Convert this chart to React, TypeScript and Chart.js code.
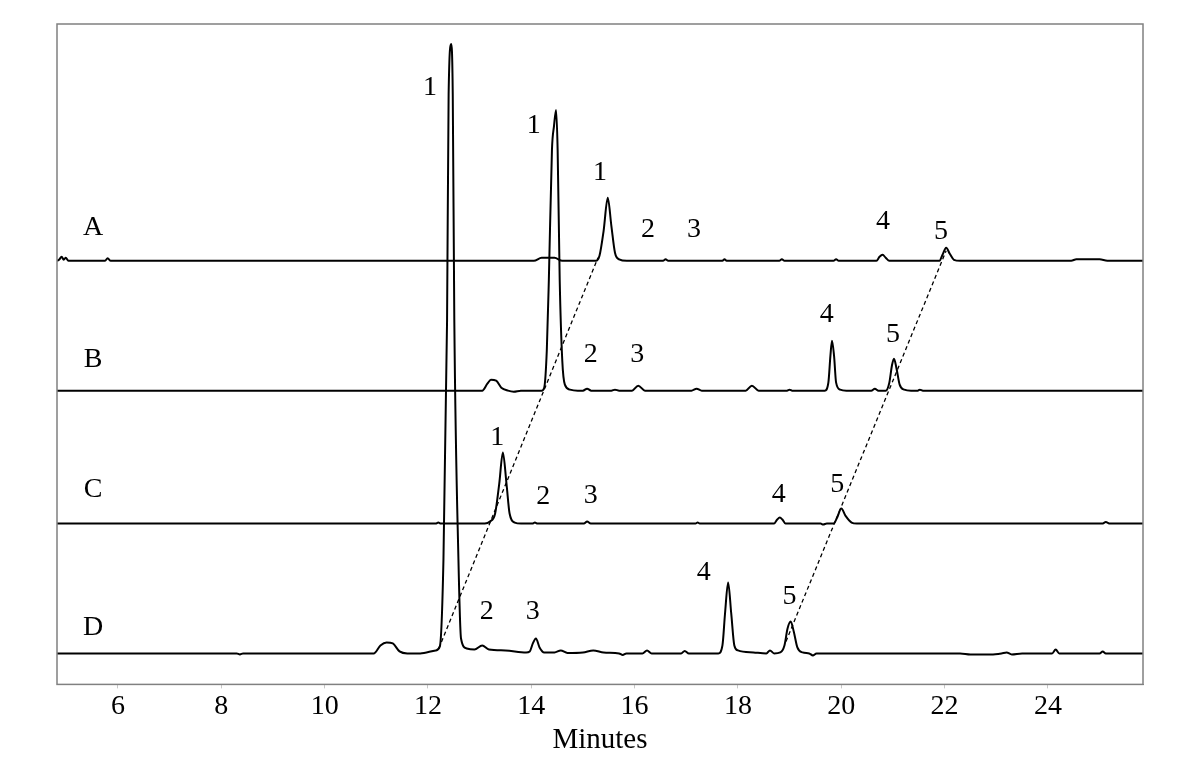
import React, { useEffect, useRef } from "react";
import { Chart, registerables } from "chart.js";

Chart.register(...registerables);

// ---- axis data ----
const xRange: [number, number] = [4.82, 25.84];
const yRange: [number, number] = [0, 661];
const xTickValues = [6, 8, 10, 12, 14, 16, 18, 20, 22, 24];
const xTitle = "Minutes";

// ---- traces: [time (min), signal] ----
const traceNames = ["A", "B", "C", "D"];
const traceOffsets = [424, 294, 161, 31];

const traceA: [number, number][] = [
  [4.82, 0], [4.86, 1], [4.91, 4], [4.95, 1], [4.99, 3], [5.04, 0], [5.75, 0], [5.8, 2.5], [5.86, 0],
  [14.05, 0], [14.2, 3], [14.45, 3], [14.6, 0], [15.25, 0], [15.32, 5], [15.4, 30], [15.48, 63],
  [15.55, 35], [15.62, 8], [15.7, 1.5], [15.85, 0], [16.55, 0], [16.6, 1.5], [16.65, 0], [17.7, 0],
  [17.74, 1.5], [17.78, 0], [18.8, 0], [18.85, 1.5], [18.9, 0], [19.85, 0], [19.9, 1.5], [19.95, 0],
  [20.68, 0], [20.74, 4], [20.8, 6], [20.86, 3], [20.93, 0], [21.9, 0], [21.96, 6], [22.03, 13],
  [22.1, 7], [22.18, 1], [22.3, 0], [24.45, 0], [24.55, 1.5], [25.0, 1.5], [25.15, 0], [25.84, 0],
];

const traceB: [number, number][] = [
  [4.82, 0], [13.05, 0], [13.15, 7], [13.22, 11], [13.32, 10], [13.42, 3], [13.55, 0], [13.66, -1],
  [13.8, 0], [14.2, 0], [14.25, 3], [14.3, 40], [14.34, 111], [14.4, 241], [14.44, 265], [14.48, 281],
  [14.51, 241], [14.55, 111], [14.6, 30], [14.65, 6], [14.75, 1], [14.9, 0], [15.0, 0], [15.08, 2],
  [15.16, 0], [15.55, 0], [15.62, 1], [15.7, 0], [15.95, 0], [16.07, 5], [16.2, 0], [17.1, 0],
  [17.2, 2], [17.3, 0], [18.15, 0], [18.27, 5], [18.4, 0], [18.95, 0], [19.0, 1], [19.05, 0],
  [19.68, 0], [19.75, 8], [19.79, 35], [19.82, 50], [19.86, 35], [19.9, 8], [19.98, 1], [20.1, 0],
  [20.58, 0], [20.65, 2], [20.72, 0], [20.86, 0], [20.93, 8], [20.98, 25], [21.02, 32], [21.07, 22],
  [21.13, 6], [21.22, 1], [21.35, 0], [21.48, 0], [21.52, 1], [21.58, 0], [25.84, 0],
];

const traceC: [number, number][] = [
  [4.82, 0], [12.15, 0], [12.2, 1], [12.25, 0], [13.1, 0], [13.2, 2], [13.3, 10], [13.38, 40],
  [13.45, 71], [13.52, 40], [13.58, 10], [13.68, 1], [13.8, 0], [14.02, 0], [14.07, 1], [14.12, 0],
  [15.02, 0], [15.08, 2], [15.15, 0], [17.18, 0], [17.22, 1], [17.26, 0], [18.7, 0], [18.76, 4],
  [18.81, 6], [18.86, 4], [18.92, 0], [19.6, 0], [19.65, -1], [19.72, 0], [19.85, 0], [19.92, 6],
  [20.0, 15], [20.08, 8], [20.2, 1], [20.3, 0], [25.05, 0], [25.12, 1.5], [25.2, 0], [25.84, 0],
];

const traceD: [number, number][] = [
  [4.82, 0], [8.3, 0], [8.36, -1], [8.42, 0], [10.95, 0], [11.08, 8], [11.2, 11], [11.32, 10],
  [11.45, 2], [11.6, 0], [11.85, 0], [12.15, 3], [12.23, 7], [12.3, 94], [12.37, 334], [12.4, 560],
  [12.45, 610], [12.48, 560], [12.51, 334], [12.59, 94], [12.64, 15], [12.75, 5], [12.9, 4],
  [13.05, 8], [13.18, 4], [13.5, 3], [13.9, 1], [13.97, 2], [14.03, 10], [14.09, 15], [14.16, 6],
  [14.25, 1], [14.45, 1], [14.57, 3], [14.7, 0.5], [15.0, 1], [15.2, 3], [15.4, 1], [15.7, 0],
  [15.77, -1.5], [15.84, 0], [16.15, 0], [16.24, 3], [16.33, 0], [16.9, 0], [16.97, 2.5], [17.05, 0],
  [17.62, 0], [17.7, 8], [17.75, 40], [17.81, 71], [17.87, 40], [17.93, 8], [18.0, 3], [18.3, 1],
  [18.55, 0], [18.62, 3], [18.7, 0], [18.82, 1], [18.9, 8], [18.96, 25], [19.02, 32], [19.08, 22],
  [19.15, 6], [19.25, 1], [19.38, 0], [19.45, -2], [19.52, 0], [22.3, 0], [22.5, -1], [22.9, -1],
  [23.1, 0], [23.2, 1], [23.3, -1], [23.5, 0], [24.08, 0], [24.15, 4], [24.22, 0], [25.0, 0],
  [25.06, 2], [25.12, 0], [25.84, 0],
];

const traces = [traceA, traceB, traceC, traceD];

// dashed guide lines connecting peaks 1 and 5 (absolute coords)
const guide1: [number, number][] = [[12.21, 36], [15.29, 427]];
const guide5: [number, number][] = [[18.93, 43], [22.03, 434]];

// text annotations [text, time, absolute y]
const traceLabels: [string, number, number][] = [
  ["A", 5.52, 457], ["B", 5.52, 325], ["C", 5.52, 195], ["D", 5.52, 57],
];
const peakLabels: [string, number, number][] = [
  ["1", 15.33, 512], ["2", 16.26, 455], ["3", 17.15, 455], ["4", 20.81, 463], ["5", 21.93, 453],
  ["1", 14.05, 559], ["2", 15.15, 330], ["3", 16.05, 330], ["4", 19.72, 370], ["5", 21.0, 350],
  ["1", 13.34, 247], ["2", 14.23, 188], ["3", 15.15, 189], ["4", 18.79, 190], ["5", 19.92, 200],
  ["1", 12.04, 597], ["2", 13.14, 73], ["3", 14.03, 73], ["4", 17.34, 112], ["5", 19.0, 88],
];

const FONT = '"Liberation Serif", "DejaVu Serif", serif';

const boxPlugin = {
  id: "boxAndText",
  afterDatasetsDraw(chart: any) {
    const { ctx, chartArea, scales } = chart;
    const xs = scales.x, ys = scales.y;
    ctx.save();
    ctx.strokeStyle = "#808080";
    ctx.lineWidth = 1.5;
    ctx.strokeRect(chartArea.left, chartArea.top, chartArea.right - chartArea.left, chartArea.bottom - chartArea.top);
    ctx.fillStyle = "#000";
    ctx.font = `28px ${FONT}`;
    ctx.textAlign = "center";
    ctx.textBaseline = "middle";
    [...traceLabels, ...peakLabels].forEach(([t, x, y]) => {
      ctx.fillText(t, xs.getPixelForValue(x), ys.getPixelForValue(y));
    });
    ctx.restore();
  },
};

export default function App() {
  const ref = useRef<HTMLCanvasElement | null>(null);
  useEffect(() => {
    document.body.style.margin = "0";
    if (!ref.current) return;
    const datasets: any[] = traces.map((tr, i) => ({
      label: traceNames[i],
      data: tr.map(([x, v]) => ({ x, y: v + traceOffsets[i] })),
      borderColor: "#000",
      borderWidth: 2,
      pointRadius: 0,
      cubicInterpolationMode: "monotone",
      fill: false,
    }));
    [guide1, guide5].forEach((g, i) =>
      datasets.push({
        label: `guide${i}`,
        data: g.map(([x, y]) => ({ x, y })),
        borderColor: "#000",
        borderWidth: 1.3,
        borderDash: [4, 3],
        pointRadius: 0,
        tension: 0,
        fill: false,
      })
    );
    const chart = new Chart(ref.current, {
      type: "line",
      data: { datasets },
      options: {
        animation: false,
        responsive: false,
        maintainAspectRatio: false,
        layout: { padding: { left: 57, right: 57, top: 24, bottom: 0 } },
        plugins: { legend: { display: false }, tooltip: { enabled: false } },
        scales: {
          x: {
            type: "linear",
            min: xRange[0],
            max: xRange[1],
            afterBuildTicks: (scale: any) => {
              scale.ticks = xTickValues.map((v) => ({ value: v }));
            },
            ticks: {
              color: "#000",
              font: { family: FONT, size: 28, lineHeight: 1.2 },
              padding: 1,
              maxRotation: 0,
              autoSkip: false,
            },
            grid: { drawOnChartArea: false, drawTicks: true, tickLength: 4, color: "#c8c8c8" },
            border: { display: true, color: "#808080" },
            title: {
              display: true,
              text: xTitle,
              color: "#000",
              font: { family: FONT, size: 29, lineHeight: 1.0 },
              padding: { top: 2, bottom: 4 },
            },
          },
          y: { type: "linear", min: yRange[0], max: yRange[1], display: false },
        },
      },
      plugins: [boxPlugin],
    });
    return () => chart.destroy();
  }, []);
  return (
    <div style={{ width: 1200, height: 759, background: "#fff" }}>
      <canvas ref={ref} width={1200} height={759} style={{ width: 1200, height: 759, display: "block" }} />
    </div>
  );
}
